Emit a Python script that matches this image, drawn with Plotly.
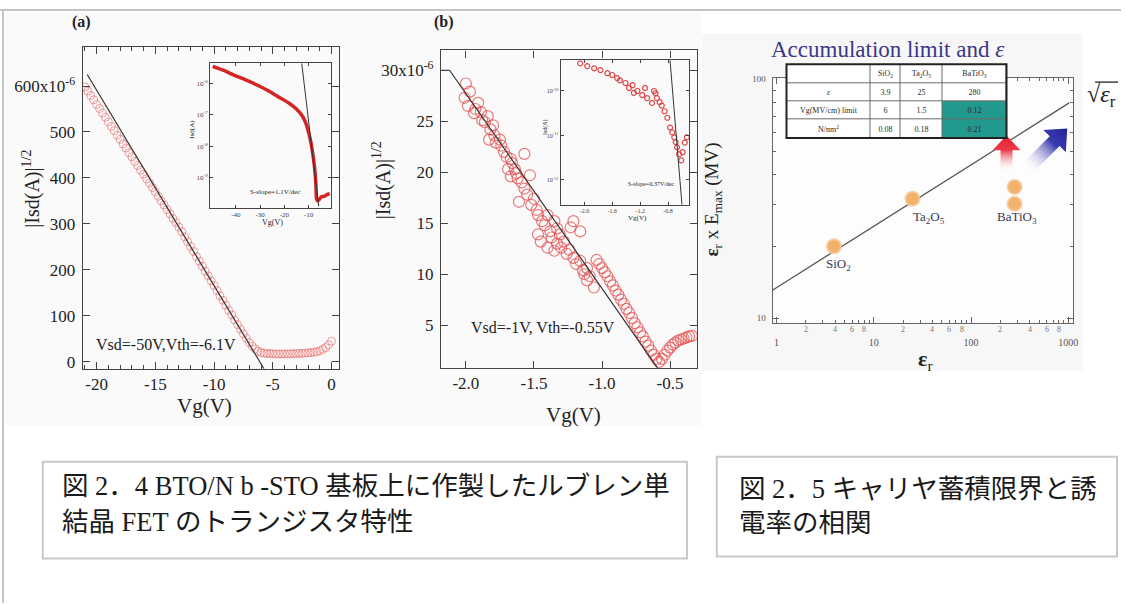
import base64
import math
import plotly.graph_objects as go

W, H = 1126, 606
SERIF = "Liberation Serif, DejaVu Serif, serif"
CAPTION_FONT = "Liberation Serif, Noto Sans CJK JP, serif"
INK = "#222222"


def fx(p):
    return p / W


def fy(p):
    return 1 - p / H


# ---------------- (a) BTO/Nb-STO, Vsd = -50 V ----------------
vg_a = [-21.0, -20.75, -20.5, -20.25, -20.0, -19.75, -19.5, -19.25, -19.0, -18.75,
        -18.5, -18.25, -18.0, -17.75, -17.5, -17.25, -17.0, -16.75, -16.5, -16.25,
        -16.0, -15.75, -15.5, -15.25, -15.0, -14.75, -14.5, -14.25, -14.0, -13.75,
        -13.5, -13.25, -13.0, -12.75, -12.5, -12.25, -12.0, -11.75, -11.5, -11.25,
        -11.0, -10.75, -10.5, -10.25, -10.0, -9.75, -9.5, -9.25, -9.0, -8.75,
        -8.5, -8.25, -8.0, -7.75, -7.5, -7.25, -7.0, -6.75, -6.5, -6.25,
        -6.0, -5.75, -5.5, -5.25, -5.0, -4.75, -4.5, -4.25, -4.0, -3.75,
        -3.5, -3.25, -3.0, -2.75, -2.5, -2.25, -2.0, -1.75, -1.5, -1.25,
        -1.0, -0.75, -0.5, -0.25, 0.0]
sqrt_isd_a = [598, 589, 579, 570, 560, 551, 541, 532, 522, 512,
              503, 493, 484, 474, 465, 455, 446, 436, 427, 417,
              408, 398, 389, 379, 370, 360, 350, 341, 331, 322,
              312, 303, 293, 283, 272, 261, 251, 240, 229, 219,
              208, 197, 187, 176, 166, 155, 144, 134, 123, 112,
              102, 91, 81, 71, 61, 51, 42, 34, 28, 23,
              20, 19, 18, 18, 17.5, 17, 17, 17, 17, 17,
              17.5, 17.5, 18, 18, 18.5, 19, 19.5, 20, 21, 22,
              24, 27, 31, 37, 45]   # |Isd|^1/2 in 1e-6 A^1/2
fit_a_vg = [-20.8, -6.1, -5.75]
fit_a_val = [625, 0, -15]
vsd_a, vth_a = -50, -6.1

# inset (a): log|Isd| vs Vg
inset_a_vg = [-49.6, -45, -40.8, -35, -30, -27.2, -22, -18, -15, -12.5, -11.2, -10,
              -9, -8.2, -7.6, -7.2, -6.9, -6.7, -6.2, -5.5, -4.8, -3.5, -2.2, -1.2]
inset_a_isd = [3.39e-6, 2.51e-6, 1.78e-6, 1.17e-6, 7.8e-7, 6.0e-7, 3.5e-7, 2.3e-7,
               1.5e-7, 8.9e-8, 5.6e-8, 2.8e-8, 1.3e-8, 5.6e-9, 2.5e-9, 1.2e-9,
               5.0e-10, 2.2e-10, 1.9e-10, 2.1e-10, 2.5e-10, 2.6e-10, 3.0e-10, 3.2e-10]
inset_a_fit_vg = [-12.8, -5.8]
inset_a_fit_isd = [4.2e-6, 1.26e-10]

# ---------------- (b) Vsd = -1 V ----------------
vg_b = [-2.01, -2.00, -1.985, -1.97, -1.94, -1.93, -1.91, -1.89, -1.88, -1.86,
        -1.84, -1.83, -1.82, -1.80, -1.79, -1.78, -1.75, -1.74, -1.72, -1.70,
        -1.69, -1.67, -1.67, -1.66, -1.64, -1.63, -1.62, -1.61, -1.59, -1.57,
        -1.57, -1.55, -1.53, -1.52, -1.50, -1.48, -1.47, -1.47, -1.45, -1.44,
        -1.42, -1.40, -1.40, -1.38, -1.37, -1.35, -1.35, -1.33, -1.33, -1.31,
        -1.30, -1.28, -1.26, -1.24, -1.23, -1.21, -1.21, -1.19, -1.16, -1.16,
        -1.14, -1.13, -1.11, -1.11, -1.09, -1.06,
        -1.04, -1.02, -1.00, -0.98, -0.96, -0.94, -0.92, -0.90, -0.88, -0.86,
        -0.84, -0.82, -0.80, -0.78, -0.76, -0.74, -0.72, -0.70, -0.68, -0.66,
        -0.64, -0.62, -0.60, -0.58, -0.56, -0.54, -0.52, -0.50, -0.48, -0.46,
        -0.44, -0.42, -0.40, -0.38, -0.36, -0.34]
sqrt_isd_b = [27.3, 28.7, 26.5, 27.9, 25.8, 26.2, 26.8, 25.9, 25.1, 24.9,
              25.5, 23.2, 24.2, 24.6, 23.6, 22.9, 23.2, 22.6, 22.0, 21.5,
              20.3, 21.3, 19.6, 20.9, 20.3, 19.9, 19.4, 17.1, 19.0, 21.8,
              18.4, 17.8, 19.7, 16.8, 17.4, 16.3, 15.8, 13.9, 13.2, 15.2,
              14.8, 15.8, 12.6, 14.2, 13.6, 15.2, 12.3, 13.0, 14.5, 13.9,
              12.6, 13.2, 12.0, 12.4, 14.6, 11.6, 15.2, 11.0, 11.3, 14.2,
              10.4, 10.0, 10.6, 9.4, 9.8, 8.7,
              11.4, 11.0, 10.6, 10.2, 9.8, 9.3, 8.9, 8.4, 8.0, 7.5,
              7.1, 6.6, 6.2, 5.7, 5.2, 4.8, 4.3, 3.9, 3.4, 3.0,
              2.5, 2.1, 1.7, 1.4, 1.7, 2.1, 2.5, 2.8, 3.1, 3.3,
              3.5, 3.6, 3.7, 3.8, 3.9, 3.95]   # 1e-6 A^1/2
fit_b_vg = [-2.18, -2.12, -0.55]
fit_b_val = [30, 30, 0]
vsd_b, vth_b = -1, -0.55

inset_b_vg = [-2.06, -1.96, -1.86, -1.77, -1.67, -1.60, -1.53, -1.49, -1.41, -1.36,
              -1.29, -1.31, -1.24, -1.17, -1.13, -1.10, -1.03, -1.00,
              -0.98, -0.96, -0.92, -0.89, -0.85, -0.81, -0.77, -0.74, -0.71, -0.69,
              -0.67, -0.64, -0.61, -0.59, -0.56, -0.53]
inset_b_isd = [4.17e-10, 3.63e-10, 3.24e-10, 2.95e-10, 2.51e-10, 2.29e-10, 1.95e-10,
               1.74e-10, 1.51e-10, 1.17e-10, 9.1e-11, 1.35e-10, 1.0e-10, 8.1e-11,
               1.17e-10, 6.9e-11, 5.4e-11, 1.0e-10,
               8.9e-11, 6.9e-11, 5.6e-11, 4.7e-11, 3.5e-11, 2.5e-11, 1.5e-11, 1.17e-11,
               9.1e-12, 7.1e-12, 5.4e-12, 3.8e-12, 2.75e-12, 4.2e-12, 6.9e-12, 9.1e-12]
inset_b_fit_vg = [-0.771, -0.60]
inset_b_fit_isd = [4.9e-10, 2.78e-13]

# ---------------- (c) accumulation limit vs permittivity ----------------
materials = ["SiO<sub>2</sub>", "Ta<sub>2</sub>O<sub>5</sub>", "BaTiO<sub>3</sub>", "BaTiO<sub>3</sub>"]
eps_r = [3.9, 25, 280, 280]
eps_emax = [20.0, 31.6, 35.4, 30.1]
trend_eps = [0.91, 1020]
trend_val = [13.1, 79.5]

table_header = ["", "SiO<sub>2</sub>", "Ta<sub>2</sub>O<sub>5</sub>", "BaTiO<sub>3</sub>"]
table_rows = ["<i>ε</i>", "Vg(MV/cm) limit", "N/nm<sup>2</sup>"]
table_sio2 = ["3.9", "6", "0.08"]
table_ta2o5 = ["25", "1.5", "0.18"]
table_batio3 = ["280", "0.12", "0.21"]
table_highlight = [False, True, True]      # BaTiO3 cells marked in teal
table_col_width = [84, 31, 42, 64]
table_row_height = [19, 18.5, 18.5, 18.5]

fig = go.Figure()

# (a) main
fig.add_trace(go.Scatter(x=vg_a, y=sqrt_isd_a, mode="markers", xaxis="x", yaxis="y",
                         marker=dict(symbol="circle-open", size=8, color="rgba(232,96,96,0.6)",
                                     line=dict(width=1)), showlegend=False))
fig.add_trace(go.Scatter(x=fit_a_vg, y=fit_a_val, mode="lines", xaxis="x", yaxis="y",
                         line=dict(color="#333333", width=1.2), showlegend=False))
# (a) inset
fig.add_trace(go.Scatter(x=inset_a_vg, y=inset_a_isd, mode="lines", xaxis="x2", yaxis="y2",
                         line=dict(color="#d42424", width=3.5, shape="spline", smoothing=0.6),
                         showlegend=False))
fig.add_trace(go.Scatter(x=inset_a_fit_vg, y=inset_a_fit_isd, mode="lines", xaxis="x2", yaxis="y2",
                         line=dict(color="#333333", width=1), showlegend=False))
# (b) main
fig.add_trace(go.Scatter(x=vg_b, y=sqrt_isd_b, mode="markers", xaxis="x3", yaxis="y3",
                         marker=dict(symbol="circle-open", size=11, color="rgba(230,80,80,0.75)",
                                     line=dict(width=1.2)), showlegend=False))
fig.add_trace(go.Scatter(x=fit_b_vg, y=fit_b_val, mode="lines", xaxis="x3", yaxis="y3",
                         line=dict(color="#333333", width=1.2), showlegend=False))
# (b) inset
fig.add_trace(go.Scatter(x=inset_b_vg, y=inset_b_isd, mode="markers", xaxis="x4", yaxis="y4",
                         marker=dict(symbol="circle-open", size=5, color="#e04848",
                                     line=dict(width=1.2)), showlegend=False))
fig.add_trace(go.Scatter(x=inset_b_fit_vg, y=inset_b_fit_isd, mode="lines", xaxis="x4", yaxis="y4",
                         line=dict(color="#333333", width=1), showlegend=False))
# (c)
fig.add_trace(go.Scatter(x=trend_eps, y=trend_val, mode="lines", xaxis="x5", yaxis="y5",
                         line=dict(color="#555555", width=1.3), showlegend=False))
fig.add_trace(go.Scatter(x=eps_r, y=eps_emax, mode="markers", xaxis="x5", yaxis="y5",
                         marker=dict(size=14, color="#f3b26c",
                                     line=dict(color="rgba(246,200,150,0.8)", width=2)),
                         showlegend=False))

# property table drawn as a gapped heatmap; the gaps show the grid colour beneath
col_edges = [0]
for wdt in table_col_width:
    col_edges.append(col_edges[-1] + wdt)
row_edges = [0]
for hgt in table_row_height:
    row_edges.append(row_edges[-1] + hgt)
cell_text = [table_header] + [[r, a, b, c] for r, a, b, c in
                              zip(table_rows, table_sio2, table_ta2o5, table_batio3)]
cell_fill = [[0, 0, 0, 0]] + [[0, 0, 0, 1 if hl else 0] for hl in table_highlight]
teal = "#21998c"
fig.add_trace(go.Heatmap(x=col_edges, y=row_edges, z=cell_fill, text=cell_text,
                         texttemplate="%{text}", xaxis="x6", yaxis="y6",
                         textfont=dict(family=SERIF, size=8, color="#2a2a2a"),
                         colorscale=[[0, "white"], [1, teal]], zmin=0, zmax=1,
                         showscale=False, xgap=1, ygap=1, hoverinfo="skip"))


def frame_axis(dom, rng, **kw):
    base = dict(domain=dom, range=rng, showline=True, mirror="allticks", linecolor="#444444",
                linewidth=1.2, ticks="inside", tickcolor="#444444", showgrid=False,
                zeroline=False, tickfont=dict(family=SERIF, size=17, color=INK))
    base.update(kw)
    return base


layout = dict(
    width=W, height=H, margin=dict(l=0, r=0, t=0, b=0), autosize=False,
    paper_bgcolor="white", plot_bgcolor="rgba(0,0,0,0)", showlegend=False,
    xaxis=frame_axis([fx(83), fx(341)], [-21.19, 0.68], anchor="y", ticklen=7,
                     tickvals=[-20, -15, -10, -5, 0], ticktext=["-20", "-15", "-10", "-5", "0"],
                     minor=dict(ticks="inside", ticklen=4, dtick=1, tickcolor="#444444"),
                     ticklabelstandoff=0),
    yaxis=frame_axis([fy(369), fy(43)], [-15.1, 686], anchor="x", ticklen=7,
                     tickvals=[0, 100, 200, 300, 400, 500, 600],
                     ticktext=["0", "100", "200", "300", "400", "500", "600x10<sup>-6</sup>"],
                     ticklabelstandoff=3),
    xaxis2=frame_axis([fx(211), fx(332)], [-50.7, -0.9], anchor="y2", ticklen=3,
                      tickvals=[-40, -30, -20, -10], ticktext=["-40", "-30", "-20", "-10"],
                      tickfont=dict(family=SERIF, size=7, color="#444444"), linewidth=1),
    yaxis2=frame_axis([fy(206), fy(60)], [-9.94, -5.375], anchor="x2", type="log", ticklen=3,
                      tickvals=[1e-9, 1e-8, 1e-7, 1e-6],
                      ticktext=["10<sup>-9</sup>", "10<sup>-8</sup>", "10<sup>-7</sup>", "10<sup>-6</sup>"],
                      tickfont=dict(family=SERIF, size=7, color="#444444"), linewidth=1),
    xaxis3=frame_axis([fx(443), fx(700)], [-2.1825, -0.303], anchor="y3", ticklen=7,
                      tickvals=[-2.0, -1.5, -1.0, -0.5], ticktext=["-2.0", "-1.5", "-1.0", "-0.5"],
                      ticklabelstandoff=0),
    yaxis3=frame_axis([fy(368), fy(47)], [0.83, 31.94], anchor="x3", ticklen=7,
                      tickvals=[5, 10, 15, 20, 25, 30],
                      ticktext=["5", "10", "15", "20", "25", "30x10<sup>-6</sup>"],
                      ticklabelstandoff=3),
    xaxis4=frame_axis([fx(563), fx(692)], [-2.343, -0.5], anchor="y4", ticklen=3,
                      tickvals=[-2.0, -1.6, -1.2, -0.8], ticktext=["-2.0", "-1.6", "-1.2", "-0.8"],
                      tickfont=dict(family=SERIF, size=6, color="#444444"), linewidth=1),
    yaxis4=frame_axis([fy(203), fy(57)], [-12.556, -9.311], anchor="x4", type="log", ticklen=3,
                      tickvals=[1e-12, 1e-11, 1e-10],
                      ticktext=["10<sup>-12</sup>", "10<sup>-11</sup>", "10<sup>-10</sup>"],
                      tickfont=dict(family=SERIF, size=6, color="#444444"), linewidth=1),
    xaxis5=frame_axis([fx(776), fx(1078)], [-0.04, 3.05], anchor="y5", type="log", ticklen=6,
                      linecolor="#666666", tickcolor="#666666",
                      tickvals=[1, 10, 100, 1000], ticktext=["1", "10", "100", "1000"],
                      tickfont=dict(family=SERIF, size=10, color="#555555"), ticklabelstandoff=10,
                      minor=dict(ticks="inside", ticklen=3, tickcolor="#666666",
                                 tickvals=[2, 3, 4, 5, 6, 7, 8, 9, 20, 30, 40, 50, 60, 70, 80, 90,
                                           200, 300, 400, 500, 600, 700, 800, 900])),
    yaxis5=frame_axis([fy(323), fy(75)], [0.979, 2.004], anchor="x5", type="log", ticklen=6,
                      linecolor="#666666", tickcolor="#666666",
                      tickvals=[10, 100], ticktext=["10", "100"],
                      tickfont=dict(family=SERIF, size=9, color="#555555"), ticklabelstandoff=4,
                      minor=dict(ticks="inside", ticklen=3, tickcolor="#666666",
                                 tickvals=[20, 30, 40, 50, 60, 70, 80, 90])),
    xaxis6=dict(domain=[fx(790), fx(1011)], range=[0, col_edges[-1]], anchor="y6",
                visible=False, fixedrange=True),
    yaxis6=dict(domain=[fy(61 + row_edges[-1]), fy(61)], range=[row_edges[-1], 0], anchor="x6",
                visible=False, fixedrange=True),
)
fig.update_layout(**layout)

shapes = [
    # scanned figure backgrounds
    dict(type="rect", xref="paper", yref="paper", x0=fx(5), x1=fx(704), y0=fy(427), y1=fy(8),
         fillcolor="#fafafa", line=dict(width=0), layer="below"),
    dict(type="rect", xref="paper", yref="paper", x0=fx(705), x1=fx(1087), y0=fy(371), y1=fy(30),
         fillcolor="#f7f7f7", line=dict(width=0), layer="below"),
    dict(type="rect", xref="paper", yref="paper", x0=fx(776), x1=fx(1078), y0=fy(323), y1=fy(75),
         fillcolor="#fdfdfd", line=dict(width=0), layer="below"),
    # grid colour under the table cells
    dict(type="rect", xref="paper", yref="paper", x0=fx(790), x1=fx(1011),
         y0=fy(61 + row_edges[-1]), y1=fy(61), fillcolor="#6a6a6a", line=dict(width=0),
         layer="below"),
    # page rules
    dict(type="line", xref="paper", yref="paper", x0=0, x1=1, y0=fy(6), y1=fy(6),
         line=dict(color="#c4c4c4", width=2)),
    dict(type="line", xref="paper", yref="paper", x0=fx(3), x1=fx(3), y0=fy(6), y1=0,
         line=dict(color="#c4c4c4", width=2)),
    # caption boxes
    dict(type="rect", xref="paper", yref="paper", x0=fx(43), x1=fx(690), y0=fy(561), y1=fy(463),
         line=dict(color="#c8c8c8", width=2), fillcolor="white"),
    dict(type="rect", xref="paper", yref="paper", x0=fx(720), x1=fx(1122), y0=fy(559), y1=fy(458),
         line=dict(color="#c8c8c8", width=2), fillcolor="white"),
    # table outer border
    dict(type="rect", xref="paper", yref="paper", x0=fx(790), x1=fx(1011),
         y0=fy(61 + row_edges[-1]), y1=fy(61), line=dict(color="#222222", width=2), layer="above"),
    # radical vinculum for sqrt(eps_r)
    dict(type="line", xref="paper", yref="paper", x0=fx(1100), x1=fx(1123), y0=fy(79), y1=fy(79),
         line=dict(color="#222222", width=1.3)),
]
fig.update_layout(shapes=shapes)


def note(x, y, text, size, color=INK, family=SERIF, angle=0, xanchor="center", **kw):
    return dict(x=fx(x), y=fy(y), xref="paper", yref="paper", text=text, showarrow=False,
                font=dict(family=family, size=size, color=color), textangle=angle,
                xanchor=xanchor, yanchor="middle", **kw)


annotations = [
    note(82, 18, "<b>(a)</b>", 16),
    note(446, 18, "<b>(b)</b>", 16),
    note(32, 187, "|Isd(A)|<sup>1/2</sup>", 20, angle=-90),
    note(205, 407, "Vg(V)", 21),
    note(167, 344, f"Vsd={vsd_a}V,Vth={vth_a}V", 16),
    note(384, 178, "|Isd(A)|<sup>1/2</sup>", 20, angle=-90),
    note(576, 416, "Vg(V)", 21),
    note(545, 327, f"Vsd={vsd_b}V, Vth={vth_b}V", 16),
    # insets
    note(192, 127, "Isd(A)", 7, angle=-90),
    note(274, 221, "Vg(V)", 8),
    note(276, 190, "S-slope=1.1V/dec", 7),
    note(548, 125, "Isd(A)", 6, angle=-90),
    note(640, 217, "Vg(V)", 7),
    note(654, 182, "S-slope=0.37V/dec", 6),
    # (c)
    note(892, 46, "Accumulation limit and <i>ε</i>", 23, color="#3a3888"),
    note(716, 198, "<b>ε</b><sub>r</sub> x E<sub>max</sub> (MV)", 19, angle=-90),
    note(930, 360, "<b>ε</b><sub>r</sub>", 22),
    note(1106, 93, "√<i>ε</i><sub>r</sub>", 24),
    # captions
    note(60, 488, "図 2．4 BTO/N b -STO 基板上に作製したルブレン単", 26.5, family=CAPTION_FONT,
         color="#1a1a1a", xanchor="left"),
    note(60, 524, "結晶 FET のトランジスタ特性", 26.5, family=CAPTION_FONT,
         color="#1a1a1a", xanchor="left"),
    note(740, 491, "図 2．5 キャリヤ蓄積限界と誘", 26.5, family=CAPTION_FONT,
         color="#1a1a1a", xanchor="left"),
    note(740, 525, "電率の相関", 26.5, family=CAPTION_FONT, color="#1a1a1a", xanchor="left"),
]

# point labels in (c)
label_shift = [(5, -18), (17, -19), None, (2, -14)]
for name, e, v, shift in zip(materials, eps_r, eps_emax, label_shift):
    if shift is None:
        continue
    annotations.append(dict(x=math.log10(e), y=math.log10(v), xref="x5", yref="y5", text=name,
                            showarrow=False, xshift=shift[0], yshift=shift[1],
                            font=dict(family=SERIF, size=13, color="#3a3a55")))

# minor decade labels on the (c) x axis
for v in [2, 4, 6, 8, 20, 40, 60, 80, 200, 400, 600, 800]:
    annotations.append(dict(x=math.log10(v), y=fy(329), xref="x5", yref="paper",
                            text=str(v)[0], showarrow=False, yanchor="middle",
                            font=dict(family=SERIF, size=8, color="#777777")))

fig.update_layout(annotations=annotations)

# shaded arrows next to the BaTiO3 points
arrow_svg = """<svg xmlns="http://www.w3.org/2000/svg" width="90" height="52" viewBox="0 0 90 52">
<defs>
<linearGradient id="r" x1="0" y1="13" x2="0" y2="50" gradientUnits="userSpaceOnUse">
<stop offset="0" stop-color="#e3202c"/><stop offset="0.4" stop-color="#ec3a48"/>
<stop offset="1" stop-color="#ffffff" stop-opacity="0"/></linearGradient>
<linearGradient id="b" x1="82" y1="6" x2="40" y2="47" gradientUnits="userSpaceOnUse">
<stop offset="0" stop-color="#23239a"/><stop offset="0.35" stop-color="#3b3bb0"/>
<stop offset="1" stop-color="#ffffff" stop-opacity="0"/></linearGradient>
</defs>
<path d="M21,13 L35,28 L27,28 L27,50 L15,50 L15,28 L7,28 Z" fill="url(#r)"/>
<path d="M82,6 L80.6,30 L74.3,23.7 L48.1,49.9 L38.2,40 L64.4,13.8 L58,7.4 Z" fill="url(#b)"/>
</svg>"""
arrow_src = "data:image/svg+xml;base64," + base64.b64encode(arrow_svg.encode()).decode()
fig.update_layout(images=[dict(source=arrow_src, xref="paper", yref="paper", x=fx(990), y=fy(120),
                               sizex=90 / W, sizey=52 / H, xanchor="left", yanchor="top",
                               sizing="stretch", layer="above")])

fig.write_html("out.html")
